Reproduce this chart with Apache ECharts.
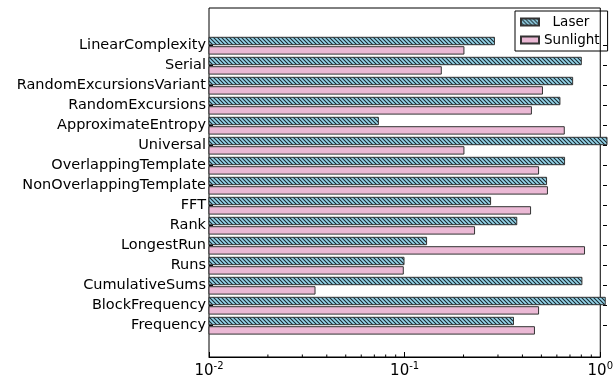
<!DOCTYPE html>
<html><head><meta charset="utf-8">
<script src="https://cdn.jsdelivr.net/npm/echarts@6/dist/echarts.min.js"></script>
<style>html,body{margin:0;padding:0;background:#fff}#c{width:616px;height:387px}</style>
</head><body><div id="c"></div>
<script>
const categories = ['Frequency','BlockFrequency','CumulativeSums','Runs','LongestRun','Rank','FFT','NonOverlappingTemplate','OverlappingTemplate','Universal','ApproximateEntropy','RandomExcursions','RandomExcursionsVariant','Serial','LinearComplexity'];
const laser    = [0.339, 0.980, 0.748, 0.0955, 0.124, 0.352, 0.260, 0.497, 0.612, 1.0, 0.0710, 0.580, 0.672, 0.743, 0.272];
const sunlight = [0.432, 0.453, 0.0341, 0.0947, 0.771, 0.216, 0.413, 0.502, 0.453, 0.191, 0.610, 0.417, 0.474, 0.147, 0.191];
const xMin = 0.01, xMax = 1;
const minorTicks = [0.02,0.03,0.04,0.05,0.06,0.07,0.08,0.09,0.2,0.3,0.4,0.5,0.6,0.7,0.8,0.9];

function hatchPattern(){
  const c = document.createElement('canvas'); c.width = 4; c.height = 4;
  const g = c.getContext('2d');
  g.fillStyle = '#96d6ea'; g.fillRect(0,0,4,4);
  g.strokeStyle = '#1a2830'; g.lineWidth = 1.1;
  g.beginPath();
  g.moveTo(-1,-1); g.lineTo(5,5);
  g.moveTo(-1,3); g.lineTo(1,5);
  g.moveTo(3,-1); g.lineTo(5,1);
  g.stroke();
  return {image: c, repeat: 'repeat'};
}
const laserFill = hatchPattern();
const sunFill = '#ebb9d5';

function barRenderer(offsetFrac, fill){
  return function(params, api){
    const idx = api.value(1);
    const end = api.coord([api.value(0), idx]);
    const start = api.coord([xMin, idx]);
    const band = api.size([1, 1])[1];
    const h = band * 0.37;
    return {
      type: 'rect',
      shape: {x: start[0], y: end[1] + band * offsetFrac, width: end[0] - start[0], height: h},
      style: {fill: fill, stroke: '#333', lineWidth: 1}
    };
  };
}

const chart = echarts.init(document.getElementById('c'), null, {renderer: 'canvas'});
chart.setOption({
  backgroundColor: '#fff',
  animation: false,
  grid: [
    {left: 209, right: 9, top: 8, bottom: 30, show: true, borderColor: '#000', borderWidth: 1, backgroundColor: 'transparent'},
    {left: 209, right: 9, top: 35.7, bottom: 51.3}
  ],
  xAxis: [
    {type: 'log', gridIndex: 0, min: xMin, max: xMax, logBase: 10, interval: 1,
     axisLine: {show: true, lineStyle: {color: '#000', width: 1}},
     axisTick: {show: true, inside: true, length: 5, lineStyle: {color: '#000'}},
     splitLine: {show: false},
     axisLabel: {margin: 4,
       formatter: v => '{b|10}{s|' + Math.round(Math.log10(v)) + '}',
       rich: {
         b: {fontSize: 15, fontFamily: 'DejaVu Sans', color: '#000', lineHeight: 20},
         s: {fontSize: 10, fontFamily: 'DejaVu Sans', color: '#000', padding: [0,0,9,0]}
       }}},
    {type: 'log', gridIndex: 1, min: xMin, max: xMax, logBase: 10, show: false}
  ],
  yAxis: [
    {type: 'value', gridIndex: 0, min: 0, max: 1, show: false},
    {type: 'category', gridIndex: 1, data: categories,
     axisLine: {show: false},
     axisTick: {show: true, inside: true, alignWithLabel: true, length: 4, lineStyle: {color: '#000'}},
     axisLabel: {fontSize: 14.5, fontFamily: 'DejaVu Sans', color: '#000', margin: 3}},
    {type: 'category', gridIndex: 1, position: 'right', data: categories,
     axisLine: {show: false},
     axisTick: {show: true, inside: true, alignWithLabel: true, length: 4, lineStyle: {color: '#000'}},
     axisLabel: {show: false}}
  ],
  legend: {
    orient: 'vertical', left: 515, top: 11,
    borderColor: '#000', borderWidth: 1, borderRadius: 0,
    padding: [4, 8, 4, 5], itemWidth: 18, itemHeight: 7, itemGap: 4,
    icon: 'rect',
    textStyle: {fontSize: 13.5, fontFamily: 'DejaVu Sans', color: '#000'},
    formatter: n => n === 'Laser' ? '  Laser' : n,
    data: ['Laser', 'Sunlight']
  },
  series: [
    {name: 'Laser', type: 'custom', xAxisIndex: 1, yAxisIndex: 1,
     itemStyle: {color: laserFill, borderColor: '#333', borderWidth: 1},
     renderItem: barRenderer(-0.42, laserFill), encode: {x: 0, y: 1},
     data: laser.map((v, i) => [v, i])},
    {name: 'Sunlight', type: 'custom', xAxisIndex: 1, yAxisIndex: 1,
     itemStyle: {color: sunFill, borderColor: '#333', borderWidth: 1},
     renderItem: barRenderer(0.05, sunFill), encode: {x: 0, y: 1},
     data: sunlight.map((v, i) => [v, i])},
    {name: 'minor', type: 'custom', xAxisIndex: 0, yAxisIndex: 0, silent: true,
     renderItem: function(params, api){
       const p = api.coord([api.value(0), 0]);
       return {type: 'line', shape: {x1: p[0], y1: p[1], x2: p[0], y2: p[1] - 2.5}, style: {stroke: '#000', lineWidth: 1}};
     }, encode: {x: 0}, data: minorTicks.map(v => [v, 0])}
  ]
});
</script></body></html>
